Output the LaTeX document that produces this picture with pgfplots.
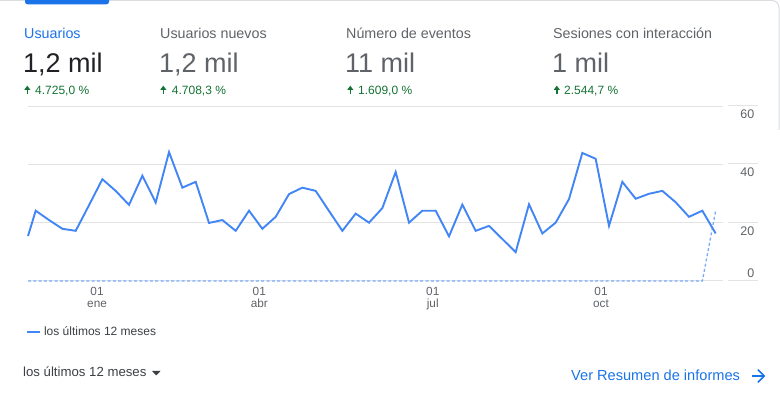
\documentclass[border=0pt]{standalone}
\usepackage{pgfplots}
\pgfplotsset{compat=1.18}
\usepackage{fontspec}
\setmainfont{Liberation Sans}
\definecolor{gblue}{HTML}{1A73E8}
\definecolor{lblue}{HTML}{4285F4}
\definecolor{dblue}{HTML}{7BAAF7}
\definecolor{ggreen}{HTML}{137333}
\definecolor{ggrey}{HTML}{5F6368}
\definecolor{gdark}{HTML}{3C4043}
\definecolor{gblack}{HTML}{202124}
\definecolor{gridc}{HTML}{E3E3E3}
\definecolor{border}{HTML}{DADCE0}
\newcommand\fs[1]{\fontsize{#1}{#1}\selectfont}
\begin{document}
\begin{tikzpicture}[x=1pt,y=1pt]
\useasboundingbox (0,0) rectangle (780,398);
% card border and tab
\draw[border, line width=1pt] (0,397.5) -- (772,397.5) arc (90:0:7) -- (779,268);
\fill[gblue, rounded corners=2.5pt] (25,404) rectangle (109,393.7);
% header texts
\node[anchor=base west, inner sep=0, text=gblue, font=\fs{14.3}] at (24,359.5) {Usuarios};
\node[anchor=base west, inner sep=0, text=ggrey, font=\fs{14.3}] at (160,359.5) {Usuarios nuevos};
\node[anchor=base west, inner sep=0, text=ggrey, font=\fs{14.3}] at (346,359.5) {Número de eventos};
\node[anchor=base west, inner sep=0, text=ggrey, font=\fs{14.3}] at (553,359.5) {Sesiones con interacción};
\node[anchor=base west, inner sep=0, text=gblack, font=\fs{27}] at (23,325.3) {1,2 mil};
\node[anchor=base west, inner sep=0, text=ggrey, font=\fs{27}] at (159,325.3) {1,2 mil};
\node[anchor=base west, inner sep=0, text=ggrey, font=\fs{27}] at (345,325.3) {11 mil};
\node[anchor=base west, inner sep=0, text=ggrey, font=\fs{27}] at (552,325.3) {1 mil};
\foreach \ax/\tx/\t in {27.3/35/{4.725,0 \%}, 163.3/171.7/{4.708,3 \%}, 350.3/358/{1.609,0 \%}, 556.8/564/{2.544,7 \%}}{
  \draw[ggreen, line width=1.5pt] (\ax,303.6) -- (\ax,309);
  \fill[ggreen] (\ax-3,308.2) -- (\ax+3,308.2) -- (\ax,312.3) -- cycle;
  \node[anchor=base west, inner sep=0, text=ggreen, font=\fs{12}] at (\tx,303) {\t};
}
% gridline stubs under the value labels
\foreach \yy in {117,175.5,234,292}{\draw[gridc, line width=1pt] (728.3,\yy) -- (757.7,\yy);}
\begin{axis}[
  at={(28pt,117pt)}, anchor=south west, scale only axis,
  width=695pt, height=175pt,
  xmin=-0.578, xmax=51.55, ymin=0, ymax=60,
  clip=false,
  /pgf/number format/assume math mode=true,
  axis line style={draw=none},
  ymajorgrids, grid style={gridc, line width=1pt},
  ytick={20,40,60},
  extra y ticks={0},
  extra y tick style={yticklabel style={anchor=south east}},
  ytick style={draw=none},
  yticklabel pos=right,
  yticklabel style={anchor=north east, xshift=35pt, inner sep=3.5pt, text=ggrey, font=\fs{12.5}},
  xtick={4.6,16.77,29.78,42.4},
  xticklabels={{01\\ene},{01\\abr},{01\\jul},{01\\oct}},
  xtick style={draw=none},
  xticklabel style={align=center, text=ggrey, font=\fontsize{11.8}{12}\selectfont, anchor=north, yshift=-3pt},
  extra x ticks={3.87,16.77,29.78,42.9},
  extra x tick labels={},
  extra x tick style={tick align=outside, major tick length=6pt, tick style={draw=gridc, line width=1pt}},
  legend style={at={(-0.003,-0.2914)}, anchor=west, draw=none, fill=none, inner sep=0pt,
    font=\fs{12}, text=gdark, nodes={inner sep=2.3pt}},
  legend image code/.code={\draw[lblue, line width=2.6pt] (0pt,0pt) -- (13pt,0pt);},
]
\addplot[dblue, line width=1.3pt, dash pattern=on 3pt off 2.3pt, forget plot] table {
x y
-0.578 0
50 0
51 24.1
};
\addplot[lblue, line width=1.9pt, line join=miter] table {
x y
-0.578 15.4
0 24.1
1 20.9
2 17.9
3 17.2
4 26.0
5 34.9
6 30.9
7 26.1
8 36.1
9 26.9
10 44.2
11 32.0
12 34.0
13 19.9
14 20.9
15 17.2
16 24.1
17 17.9
18 22.0
19 29.8
20 32.0
21 30.9
22 24.0
23 17.2
24 23.1
25 20.0
26 25.0
27 37.4
28 20.0
29 24.1
30 24.1
31 15.3
32 26.2
33 17.2
34 18.9
35 14.4
36 9.9
37 26.3
38 16.3
39 20.0
40 28.1
41 43.9
42 41.9
43 18.9
44 34.0
45 28.2
46 29.9
47 30.9
48 27.0
49 22.0
50 24.1
51 16.3
};
\addlegendentry{los últimos 12 meses}
\end{axis}
% footer
\node[anchor=base west, inner sep=0, text=gdark, font=\fs{13.2}] at (23,21.3) {los últimos 12 meses};
\fill[gdark] (152,27) -- (160.5,27) -- (156.25,22.7) -- cycle;
\node[anchor=base west, inner sep=0, text=gblue, font=\fs{14.6}] at (571,17) {Ver Resumen de informes};
\draw[gblue, line width=1.6pt] (752,22) -- (764,22);
\draw[gblue, line width=1.6pt] (758,28.3) -- (764.3,22) -- (758,15.7);
\end{tikzpicture}
\end{document}
